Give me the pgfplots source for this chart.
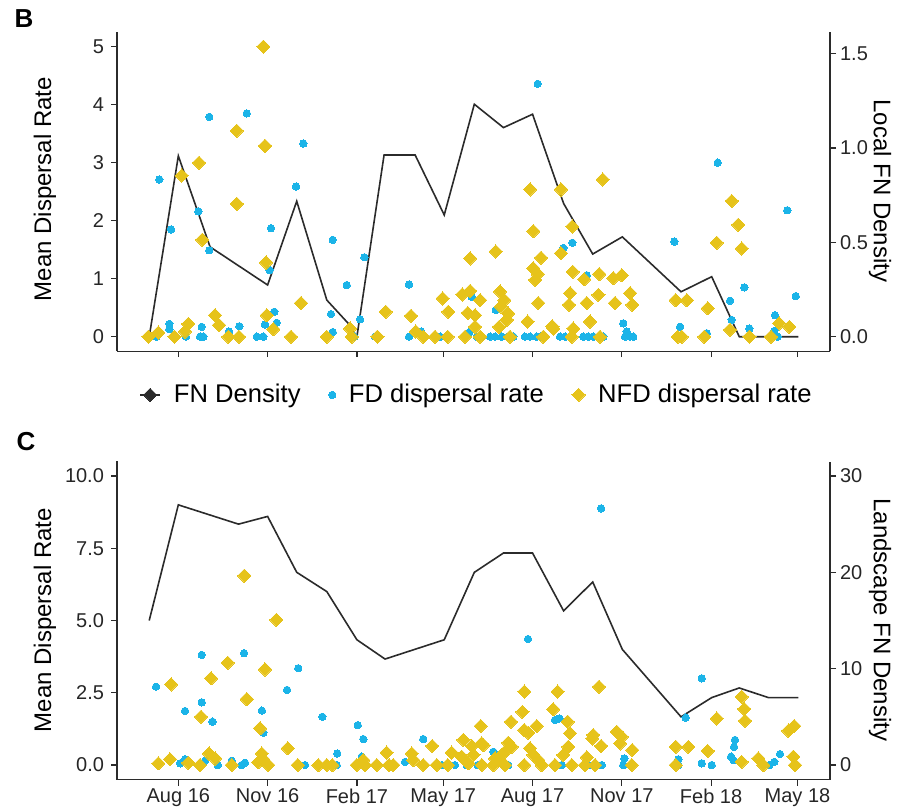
\documentclass[border=0pt]{standalone}
\usepackage{fontspec}
\setmainfont{Liberation Sans}
\usepackage{pgfplots}
\usepackage{pgfplotstable}
\pgfplotsset{compat=1.18}
\definecolor{fdblue}{HTML}{1BB4E8}
\definecolor{nfdyel}{HTML}{E6C31A}
\definecolor{linecol}{HTML}{2B2B2B}

\pgfplotstableread{
d v
-30 0
0 0.958
32.7 0.476
92 0.274
122 0.718
153 0.194
175 0.071
184 0
212 0.963
244 0.963
274 0.645
305 1.232
335 1.108
365 1.179
397 0.706
427 0.438
457.5 0.529
518 0.238
549.6 0.318
578 0
608 0
639 0
}\BLine

\pgfplotstableread{
d v
-19.6 2.71
-7.5 1.85
-9.3 0.22
-9.3 0.13
-22.3 0
7.9 0
20.6 2.16
31.9 3.79
31.9 1.49
24.1 0.17
22.4 0
25.8 0
52.2 0.09
62.9 0.18
61.8 0
70.5 3.85
80.8 0
87.6 0
89.3 0.21
93.8 1.15
95.5 1.87
98.9 0.43
101.4 0.24
121.3 2.59
128.8 3.33
159.1 1.67
191.7 1.37
173.5 0.89
157.3 0.39
159.1 0.08
187.2 0.30
151.9 0
181.4 0
202.7 0
206.1 0
237.7 0.90
237.7 0
250.1 0.09
264.5 0
269.7 0
302.3 0.69
299.5 0.07
307.5 0
312.6 0
370.3 4.36
327.1 0.46
396.7 1.53
406.0 1.62
420.8 1.06
458.5 0.23
462.0 0.09
321.2 0
326.3 0
333.2 0
340.0 0
345.2 0
357.2 0
362.4 0
369.3 0
372.7 0
393.3 0
398.5 0
405.4 0
417.3 0
422.5 0
427.7 0
434.5 0
437.9 0
460.3 0
465.4 0
468.8 0
511.1 1.64
517.0 0.17
544.5 0.06
555.8 3.00
568.5 0.62
570.2 0.29
583.2 0.85
588.4 0.14
614.8 0.37
614.1 0.10
617.6 0
627.5 2.18
636.2 0.70
}\BFD

\pgfplotstableread{
d v
-30.9 0
-20.6 0.07
-4.1 0
3.5 2.78
6.9 0.09
10.3 0.22
21.3 3.00
24.7 1.67
37.8 0.37
41.9 0.20
51.5 0
60.2 3.55
60.2 2.29
62.5 0
87.6 5.00
89.3 3.29
90.4 1.28
91.1 0.37
97.9 0.13
116.1 0
126.4 0.58
152.9 0
176.9 0.14
178.7 0
205.1 0
213.7 0.43
239.8 0.36
244.6 0.09
252.4 0
264.5 0
272.4 0.66
278.2 0.43
277.6 0
295.4 0
292.6 0.73
300.6 0.79
300.6 1.35
298.2 0.41
305.7 0.37
305.7 0.17
310.9 0.63
310.9 0
362.4 2.54
394.3 2.54
437.3 2.71
365.8 1.82
406.0 1.90
327.1 1.47
394.3 1.44
373.7 1.36
365.8 1.18
370.3 1.08
367.6 0.98
406.4 1.12
418.3 0.99
433.8 1.08
448.2 1.01
456.9 1.06
331.5 0.78
335.9 0.63
332.5 0.52
340.0 0.40
338.4 0.29
330.5 0.17
370.9 0.58
360.0 0.26
385.4 0.18
403.7 0.75
402.6 0.55
420.8 0.58
432.8 0.72
424.2 0.26
450.0 0.58
465.5 0.75
467.8 0.55
407.0 0.14
341.8 0
376.1 0
405.4 0
434.5 0
386.4 0.14
512.5 0.63
523.9 0.63
514.6 0
518.7 0
542.0 0
545.5 0.49
554.8 1.62
570.2 2.34
577.0 1.93
580.5 1.52
568.5 0.12
588.4 0
610.7 0
619.0 0.23
629.6 0.17
}\BNFD

\pgfplotstableread{
d v
-30 15
0 27
62 25
92 25.8
122 20
153 18
184 13
213 11
274 13
305 20
335 22
365 22
397 16
427 19
457.5 12
518 5
549.6 7
578 8
608 7
639 7
}\CLine

\pgfplotstableread{
d v
-23.0 2.71
6.9 1.87
24.1 3.81
24.1 2.17
35.2 1.50
67.7 3.87
86.2 1.88
87.6 1.12
112.0 2.60
123.6 3.35
148.4 1.67
184.9 1.38
190.6 0.90
163.8 0.40
189.0 0.29
252.4 0.90
233.6 0.11
1.8 0.06
6.9 0.20
27.5 0.15
40.6 0
55.0 0.15
65.3 0
68.7 0.08
130.6 0
163.2 0
271.4 0
285.1 0
297.2 0
308.5 0
435.6 8.88
360.3 4.36
388.1 1.56
392.6 1.61
324.6 0.46
459.6 0.23
309.1 0
324.6 0
340.0 0
395.1 0
422.5 0
436.3 0
458.5 0
539.3 3.00
522.8 1.64
573.6 0.87
572.6 0.63
569.5 0.29
571.9 0.17
620.0 0.38
614.1 0.11
609.0 0
515.2 0.20
515.2 0
539.3 0.06
549.6 0
}\CFD

\pgfplotstableread{
d v
68.0 6.55
101.0 5.02
50.9 3.54
89.3 3.31
33.7 3.00
-7.5 2.79
70.5 2.28
23.4 1.67
84.2 1.27
112.7 0.58
85.9 0.40
31.6 0.40
37.8 0.23
-20.6 0.06
-8.6 0.20
10.3 0.08
22.4 0
55.0 0
82.4 0.10
92.7 0
87.6 0.20
123.0 0
144.3 0
152.9 0
158.7 0
183.8 0
190.6 0.17
192.4 0
204.4 0
214.7 0.43
217.1 0
221.5 0
240.5 0.40
242.1 0.17
252.4 0
261.7 0.66
266.3 0
277.6 0
281.7 0.43
293.7 0.87
302.3 0.66
292.0 0.29
298.8 0.06
311.6 1.35
314.3 0.69
304.0 0.35
312.6 0
356.5 2.54
390.9 2.54
433.5 2.71
354.5 1.84
386.4 1.93
342.8 1.50
356.5 1.21
360.6 1.12
369.3 1.35
401.2 1.50
403.6 1.10
427.6 1.04
426.6 0.92
451.7 1.15
456.9 0.98
312.6 0.75
340.0 0.77
343.5 0.63
338.4 0.52
333.2 0.35
326.3 0.23
329.7 0.17
362.4 0.58
365.8 0.35
370.9 0.17
401.8 0.63
396.7 0.35
420.8 0.27
435.6 0.66
455.2 0.75
467.8 0.52
324.6 0
336.6 0
356.5 0
374.4 0
388.1 0
405.4 0
419.1 0
429.4 0
467.2 0
580.5 2.36
583.2 1.94
583.9 1.53
554.8 1.61
628.5 1.19
634.7 1.35
512.5 0.63
525.5 0.63
545.5 0.49
512.5 0
580.5 0.11
597.6 0.23
602.8 0
633.7 0.29
635.5 0
}\CNFD

\pgfplotsset{
  common/.style={
    scale only axis, width=356.5pt,
    xmin=-63.2, xmax=671.5,
    xtick={0,92,184,273,365,457,549,638},
    tick align=outside, major tick length=3pt,
    tick style={linecol, line width=0.6pt},
    axis line style={linecol, line width=0.6pt},
    tick label style={font=\fontsize{10}{12}\selectfont, text=black!85},
    clip=false,
  },
  fdstyle/.style={only marks, color=fdblue, mark=*, mark size=1.85pt, mark options={fill=fdblue, draw=fdblue, line width=0pt}},
  nfdstyle/.style={only marks, color=nfdyel, mark=square*, mark size=2.35pt, mark options={fill=nfdyel, draw=nfdyel, line width=0pt, rotate=45}},
  fnstyle/.style={linecol, line width=0.8pt},
}

\begin{document}
\begin{tikzpicture}
\useasboundingbox (0,0) rectangle (449.5pt,404.5pt);

% ---------- Panel B ----------
\begin{axis}[common, at={(58.5pt,228.9pt)}, anchor=south west, height=159.5pt,
  ymin=-0.0768, ymax=1.6137, axis x line=none, axis y line*=right,
  ytick={0,0.5,1,1.5}, yticklabels={0.0,0.5,1.0,1.5},
  yticklabel style={xshift=-1.5pt}]
\addplot[fnstyle] table {\BLine};
\end{axis}

\begin{axis}[common, at={(58.5pt,228.9pt)}, anchor=south west, height=159.5pt,
  ymin=-0.25, ymax=5.25, axis x line*=bottom, axis y line*=left,
  ytick={0,1,2,3,4,5}, yticklabels={0,1,2,3,4,5},
  xticklabel style={text opacity=0},
  legend columns=3,
  legend style={at={(0.5,-0.137)}, xshift=2pt, anchor=center, draw=none, fill=none,
    font=\fontsize{12.8}{15}\selectfont,
    /tikz/every odd column/.append style={column sep=4.5pt},
    /tikz/every even column/.append style={column sep=12pt}},
  legend image code/.code={\draw[mark repeat=2,mark phase=2,#1] plot coordinates {(0pt,0pt) (5pt,0pt) (10pt,0pt)};}]
\addlegendimage{fnstyle, mark=square*, mark size=2.35pt, mark options={fill=linecol, draw=linecol, line width=0pt, rotate=45}}
\addplot[fdstyle] table {\BFD};
\addplot[nfdstyle] table {\BNFD};
\legend{FN Density, FD dispersal rate, NFD dispersal rate}
\end{axis}

% ---------- Panel C ----------
\begin{axis}[common, at={(58.5pt,14.75pt)}, anchor=south west, height=159pt,
  ymin=-1.5, ymax=31.5, axis x line=none, axis y line*=right,
  ytick={0,10,20,30}, yticklabels={0,10,20,30},
  yticklabel style={xshift=-1.5pt}]
\addplot[fnstyle] table {\CLine};
\end{axis}

\begin{axis}[common, at={(58.5pt,14.75pt)}, anchor=south west, height=159pt,
  ymin=-0.5, ymax=10.5, axis x line*=bottom, axis y line*=left,
  ytick={0,2.5,5,7.5,10}, yticklabels={0.0,2.5,5.0,7.5,10.0},
  xticklabels={Aug 16,Nov 16,Feb 17,May 17,Aug 17,Nov 17,Feb 18,May 18},
  xticklabel style={yshift=2pt}]
\addplot[fdstyle] table {\CFD};
\addplot[nfdstyle] table {\CNFD};
\end{axis}

% ---------- titles ----------
\node[font=\bfseries\fontsize{13}{15}\selectfont] at (12pt,395pt) {B};
\node[font=\bfseries\fontsize{13}{15}\selectfont] at (13pt,183.5pt) {C};
\node[rotate=90, font=\fontsize{12}{14}\selectfont] at (22.5pt,310pt) {Mean Dispersal Rate};
\node[rotate=90, font=\fontsize{12}{14}\selectfont] at (22.5pt,94.5pt) {Mean Dispersal Rate};
\node[rotate=-90, font=\fontsize{12}{14}\selectfont] at (440pt,309pt) {Local FN Density};
\node[rotate=-90, font=\fontsize{12}{14}\selectfont] at (440pt,94.5pt) {Landscape FN Density};
\end{tikzpicture}
\end{document}
